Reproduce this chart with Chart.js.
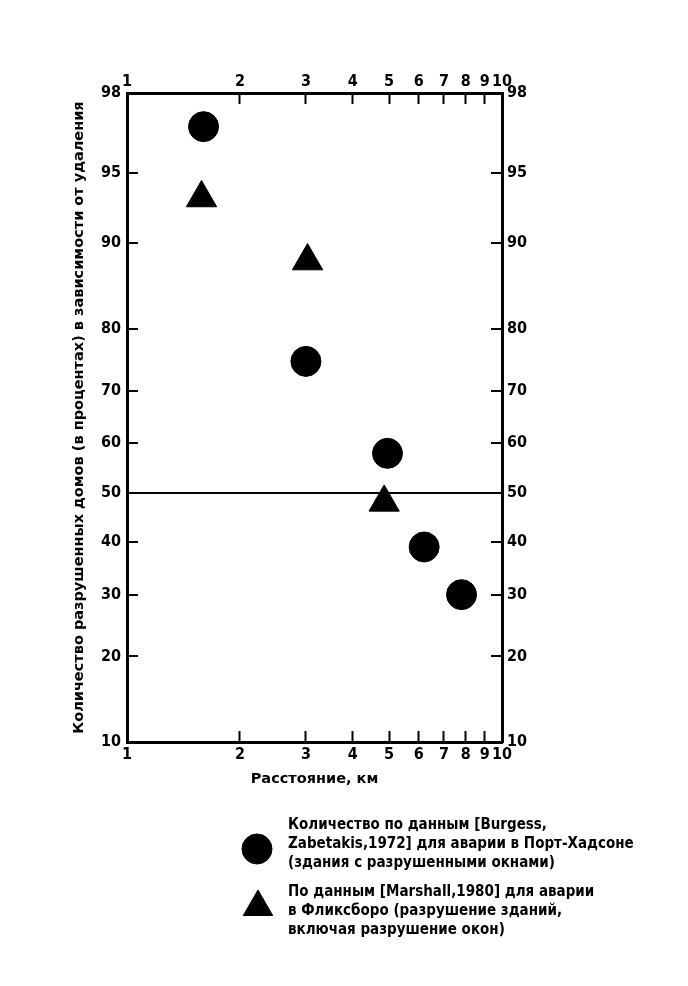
<!DOCTYPE html>
<html>
<head>
<meta charset="utf-8">
<script src="https://cdn.jsdelivr.net/npm/chart.js@4.4.1/dist/chart.umd.min.js"></script>
<style>
  body { margin: 0; background: #fff; }
  #wrap { width: 688px; height: 986px; position: relative; }
</style>
</head>
<body>
<div id="wrap"><canvas id="chart"></canvas></div>
<script>
// Distances (km) and share of destroyed houses (%)
const burgessDist = [1.6, 3.0, 4.95, 6.2, 7.8];
const burgessPct = [97, 75, 58, 39, 30];
const marshallDist = [1.58, 3.03, 4.85];
const marshallPct = [93.5, 88.3, 48];

const xTicks = [1, 2, 3, 4, 5, 6, 7, 8, 9, 10];
const yTicks = [10, 20, 30, 40, 50, 60, 70, 80, 90, 95, 98];

const xTitle = 'Расстояние, км';
const yTitle = 'Количество разрушенных домов (в процентах) в зависимости от удаления';

const burgessLabel = [
    'Количество по данным [Burgess,',
    'Zabetakis,1972] для аварии в Порт-Хадсоне',
    '(здания с разрушенными окнами)'
];
const marshallLabel = [
    'По данным [Marshall,1980] для аварии',
    'в Фликсборо (разрушение зданий,',
    'включая разрушение окон)'
];

const FONT = "'DejaVu Sans Condensed', 'DejaVu Sans', sans-serif";
const WIDE_FONT = "'DejaVu Sans', sans-serif";

// inverse normal CDF, used for the probability (y) axis
const probit = (pct) => {
    const p = pct / 100;
    const a = [-3.969683028665376e+01, 2.209460984245205e+02, -2.759285104469687e+02, 1.383577518672690e+02, -3.066479806614716e+01, 2.506628277459239e+00];
    const b = [-5.447609879822406e+01, 1.615858368580409e+02, -1.556989798598866e+02, 6.680131188771972e+01, -1.328068155288572e+01];
    const c = [-7.784894002430293e-03, -3.223964580411365e-01, -2.400758277161838e+00, -2.549732539343734e+00, 4.374664141464968e+00, 2.938163982698783e+00];
    const d = [7.784695709041462e-03, 3.224671290700398e-01, 2.445134137142996e+00, 3.754408661907416e+00];
    const pl = 0.02425;
    if (p < pl) {
        const q = Math.sqrt(-2 * Math.log(p));
        return (((((c[0]*q+c[1])*q+c[2])*q+c[3])*q+c[4])*q+c[5]) / ((((d[0]*q+d[1])*q+d[2])*q+d[3])*q+1);
    }
    if (p > 1 - pl) {
        const q = Math.sqrt(-2 * Math.log(1 - p));
        return -(((((c[0]*q+c[1])*q+c[2])*q+c[3])*q+c[4])*q+c[5]) / ((((d[0]*q+d[1])*q+d[2])*q+d[3])*q+1);
    }
    const q = p - 0.5, r = q * q;
    return (((((a[0]*r+a[1])*r+a[2])*r+a[3])*r+a[4])*r+a[5])*q / (((((b[0]*r+b[1])*r+b[2])*r+b[3])*r+b[4])*r+1);
};

const toPoints = (xs, ys) => xs.map((x, i) => ({ x: x, y: probit(ys[i]) }));

const tickFont = { family: FONT, size: 16, weight: 'bold' };
const titleFont = { family: WIDE_FONT, size: 14.5, weight: 'bold' };
const border = { display: true, color: '#000', width: 3 };

// shared axis pieces
const xAxis = (position, fitSize) => ({
    type: 'logarithmic',
    position: position,
    min: 1,
    max: 10,
    afterBuildTicks: (scale) => { scale.ticks = xTicks.map(v => ({ value: v })); },
    afterFit: (scale) => { scale.height = fitSize; },
    ticks: {
        font: tickFont,
        color: '#000',
        padding: position === 'top' ? 12.5 : 14.5,
        maxRotation: 0,
        autoSkip: false,
        callback: (v, i) => String(xTicks[i])
    },
    grid: {
        drawOnChartArea: false,
        color: '#000',
        tickColor: (ctx) => (ctx.index === 0 || ctx.index === xTicks.length - 1) ? 'rgba(0,0,0,0)' : '#000',
        tickLength: -11,
        tickWidth: 2
    },
    border: border
});

const yAxis = (position, fitSize) => ({
    type: 'linear',
    position: position,
    min: probit(yTicks[0]),
    max: probit(yTicks[yTicks.length - 1]),
    afterBuildTicks: (scale) => { scale.ticks = yTicks.map(v => ({ value: probit(v) })); },
    afterFit: (scale) => { scale.width = fitSize; },
    ticks: {
        font: tickFont,
        color: '#000',
        padding: position === 'left' ? 17 : 16,
        autoSkip: false,
        callback: (v, i) => String(yTicks[i])
    },
    grid: {
        drawOnChartArea: position === 'left',
        color: (ctx) => yTicks[ctx.index] === 50 ? '#000' : 'rgba(0,0,0,0)',
        lineWidth: 2,
        tickColor: (ctx) => (yTicks[ctx.index] === 50 || ctx.index === 0 || ctx.index === yTicks.length - 1) ? 'rgba(0,0,0,0)' : '#000',
        tickLength: -11,
        tickWidth: 2
    },
    border: border
});

// legend below the chart
const legendBlock = {
    id: 'legendBlock',
    afterDraw(chart) {
        const ctx = chart.ctx;
        ctx.save();
        ctx.fillStyle = '#000';
        ctx.strokeStyle = '#000';
        Chart.helpers.drawPoint(ctx, { pointStyle: 'circle', radius: 15, borderWidth: 1 }, 257, 849);
        Chart.helpers.drawPoint(ctx, { pointStyle: 'triangle', radius: 17, borderWidth: 1 }, 258, 907);
        ctx.font = 'bold 15px ' + FONT;
        ctx.textBaseline = 'middle';
        ctx.textAlign = 'left';
        burgessLabel.forEach((t, i) => ctx.fillText(t, 288, 825 + i * 19));
        marshallLabel.forEach((t, i) => ctx.fillText(t, 288, 892 + i * 19));
        ctx.restore();
    }
};

new Chart(document.getElementById('chart'), {
    type: 'scatter',
    data: {
        datasets: [{
            label: 'Burgess, Zabetakis, 1972',
            data: toPoints(burgessDist, burgessPct),
            pointStyle: 'circle',
            pointRadius: 15,
            backgroundColor: '#000',
            borderColor: '#000',
            borderWidth: 1
        }, {
            label: 'Marshall, 1980',
            data: toPoints(marshallDist, marshallPct),
            pointStyle: 'triangle',
            pointRadius: 17.5,
            backgroundColor: '#000',
            borderColor: '#000',
            borderWidth: 1
        }]
    },
    options: {
        responsive: true,
        maintainAspectRatio: false,
        animation: false,
        layout: { padding: { left: 0, right: 0, top: 0, bottom: 192 } },
        plugins: {
            legend: { display: false },
            tooltip: { enabled: false }
        },
        scales: {
            x: Object.assign(xAxis('bottom', 52), {
                title: {
                    display: true,
                    text: xTitle,
                    color: '#000',
                    font: titleFont,
                    padding: { top: 0, bottom: 6 }
                }
            }),
            x2: xAxis('top', 93),
            y: Object.assign(yAxis('left', 127), {
                title: {
                    display: true,
                    text: yTitle,
                    color: '#000',
                    font: titleFont,
                    padding: { top: 71, bottom: 0 }
                }
            }),
            y2: yAxis('right', 186)
        }
    },
    plugins: [legendBlock]
});
</script>
</body>
</html>
